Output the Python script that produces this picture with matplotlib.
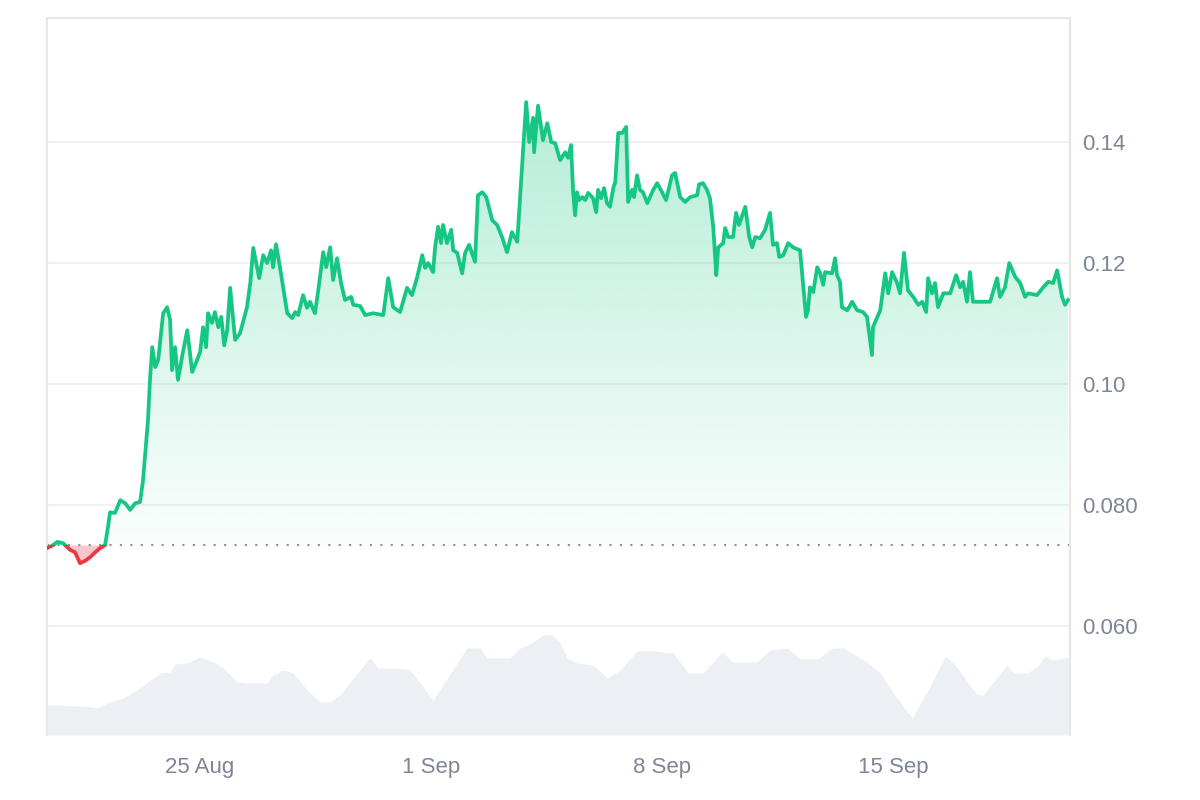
import numpy as np
import pandas as pd
import matplotlib
matplotlib.use("Agg")
import matplotlib.pyplot as plt
import matplotlib.dates as mdates
from matplotlib.patches import Rectangle
from matplotlib.colors import to_rgb

plt.rcParams['font.family'] = ['Liberation Sans', 'DejaVu Sans']

# ---------------- data ----------------
start_date = pd.Timestamp('2025-08-20')
open_price = 0.0734

price_days = [0.36, 0.52, 0.67, 0.85, 1.06, 1.21, 1.36, 1.52, 1.67, 1.82, 1.97, 2.12, 2.21, 2.27,
              2.42, 2.58, 2.73, 2.88, 3.03, 3.18, 3.27, 3.36, 3.42, 3.48, 3.55, 3.64, 3.73, 3.88,
              4.00, 4.09, 4.15, 4.24, 4.33, 4.48, 4.61, 4.76, 4.91, 5.00, 5.09, 5.18, 5.24, 5.36,
              5.45, 5.55, 5.64, 5.73, 5.82, 5.91, 6.06, 6.21, 6.42, 6.52, 6.61, 6.79, 6.91, 7.03,
              7.15, 7.21, 7.30, 7.42, 7.64, 7.79, 7.88, 7.97, 8.12, 8.24, 8.33, 8.48, 8.58, 8.73,
              8.82, 8.94, 9.03, 9.15, 9.27, 9.39, 9.58, 9.64, 9.85, 10.00, 10.24, 10.55, 10.70,
              10.85, 11.06, 11.27, 11.42, 11.58, 11.73, 11.82, 11.91, 12.06, 12.12, 12.21, 12.30,
              12.36, 12.48, 12.61, 12.67, 12.79, 12.94, 13.03, 13.15, 13.33, 13.42, 13.55, 13.67,
              13.85, 14.00, 14.15, 14.30, 14.45, 14.61, 14.70, 14.88, 14.97, 15.09, 15.12, 15.24,
              15.39, 15.52, 15.64, 15.76, 15.91, 16.06, 16.15, 16.24, 16.30,
              16.36, 16.42, 16.48, 16.58, 16.67, 16.76, 16.91, 17.00, 17.06, 17.15,
              17.24, 17.33, 17.42, 17.52, 17.58, 17.67, 17.79, 17.91, 17.97, 18.09,
              18.15, 18.24, 18.33, 18.42, 18.55, 18.73, 18.85, 19.00, 19.12, 19.30,
              19.39, 19.55, 19.70, 19.85, 20.06, 20.12, 20.24, 20.36, 20.45, 20.55,
              20.64, 20.70, 20.85, 20.91, 21.00, 21.15, 21.24, 21.33, 21.52, 21.64, 21.73,
              21.82, 21.97, 22.12, 22.27, 22.36, 22.48, 22.55, 22.67, 22.82, 22.97, 23.18, 23.27,
              23.36, 23.42, 23.48, 23.58, 23.70, 23.79, 23.88, 23.94, 24.15, 24.24, 24.30, 24.39,
              24.45, 24.61, 24.76, 24.91, 25.09, 25.21, 25.36, 25.39, 25.61, 25.76, 25.85, 25.97,
              26.12, 26.21, 26.33, 26.45, 26.61, 26.76, 26.88, 27.00, 27.06, 27.18, 27.27, 27.36,
              27.52, 27.73, 27.91, 28.03, 28.12, 28.24, 28.33, 28.42, 28.73, 28.94, 29.15, 29.24,
              29.39, 29.52, 29.70, 29.85, 30.00, 30.09, 30.36, 30.55, 30.70, 30.85, 30.97, 31.12,
              31.21, 31.30]

prices = [0.0729, 0.0733, 0.0739, 0.0737, 0.0726, 0.0722, 0.0704, 0.0708, 0.0714, 0.0722, 0.0729,
          0.0734, 0.0764, 0.0788, 0.0787, 0.0808, 0.0803, 0.0792, 0.0803, 0.0805, 0.0841, 0.0900,
          0.0940, 0.1007, 0.1061, 0.1028, 0.1040, 0.1117, 0.1127, 0.1106, 0.1023, 0.1061, 0.1007,
          0.1053, 0.1089, 0.1020, 0.1040, 0.1053, 0.1094, 0.1061, 0.1117, 0.1101, 0.1119, 0.1094,
          0.1111, 0.1064, 0.1089, 0.1159, 0.1073, 0.1084, 0.1127, 0.1167, 0.1225, 0.1175, 0.1213,
          0.1200, 0.1221, 0.1193, 0.1231, 0.1193, 0.1117, 0.1109, 0.1119, 0.1114, 0.1147, 0.1126,
          0.1136, 0.1117, 0.1155, 0.1218, 0.1193, 0.1226, 0.1172, 0.1208, 0.1167, 0.1139, 0.1144,
          0.1131, 0.1129, 0.1114, 0.1117, 0.1114, 0.1175, 0.1127, 0.1119, 0.1159, 0.1147, 0.1177,
          0.1213, 0.1192, 0.1200, 0.1185, 0.1226, 0.1260, 0.1233, 0.1263, 0.1233, 0.1255, 0.1221,
          0.1217, 0.1183, 0.1217, 0.1230, 0.1202, 0.1312, 0.1317, 0.1309, 0.1271, 0.1263, 0.1243,
          0.1218, 0.1251, 0.1235, 0.1312, 0.1466, 0.1400, 0.1440, 0.1383, 0.1460, 0.1403, 0.1431,
          0.1400, 0.1398, 0.1370, 0.1383, 0.1374, 0.1395, 0.1321,
          0.1279, 0.1317, 0.1304, 0.1309, 0.1304, 0.1316, 0.1307, 0.1284, 0.1321, 0.1307,
          0.1324, 0.1299, 0.1293, 0.1324, 0.1334, 0.1415, 0.1415, 0.1425, 0.1301, 0.1321,
          0.1309, 0.1345, 0.1321, 0.1317, 0.1299, 0.1321, 0.1332, 0.1317, 0.1304, 0.1345,
          0.1349, 0.1309, 0.1301, 0.1309, 0.1312, 0.1330, 0.1332, 0.1321, 0.1307, 0.1259,
          0.1180, 0.1226, 0.1233, 0.1258, 0.1243, 0.1243, 0.1283,
          0.1263, 0.1293, 0.1243, 0.1226, 0.1243, 0.1241, 0.1255, 0.1283, 0.1230, 0.1233, 0.1210,
          0.1213, 0.1233, 0.1226, 0.1221, 0.1167, 0.1111, 0.1122, 0.1160, 0.1152, 0.1193, 0.1183,
          0.1164, 0.1185, 0.1183, 0.1208, 0.1180, 0.1169, 0.1127, 0.1122, 0.1136, 0.1122, 0.1119,
          0.1111, 0.1048, 0.1094, 0.1122, 0.1183, 0.1150, 0.1185, 0.1167, 0.1150, 0.1217, 0.1155,
          0.1144, 0.1131, 0.1136, 0.1119, 0.1175, 0.1150, 0.1167, 0.1127, 0.1150, 0.1150, 0.1180,
          0.1160, 0.1169, 0.1136, 0.1185, 0.1136, 0.1136, 0.1136, 0.1175, 0.1144, 0.1160, 0.1200,
          0.1177, 0.1167, 0.1144, 0.1150, 0.1147, 0.1160, 0.1169, 0.1167, 0.1188, 0.1144, 0.1131,
          0.1139]

volume_days = [0.36, 0.76, 1.67, 1.88, 2.18, 2.67, 3.18, 3.58, 3.79, 4.09, 4.24, 4.61, 5.00, 5.39,
               5.67, 6.12, 6.42, 7.03, 7.21, 7.52, 7.82, 8.24, 8.64, 8.94, 9.24, 9.64, 10.15, 10.39,
               10.97, 11.36, 12.06, 13.09, 13.48, 13.70, 14.39, 14.70, 15.00, 15.39, 15.67, 15.91,
               16.12, 16.42, 16.91, 17.33, 17.73, 18.24, 18.73, 19.33, 19.79, 20.24, 20.82, 21.15,
               21.88, 22.27, 22.79, 23.18, 23.70, 24.18, 24.48, 25.21, 25.61, 26.00, 26.58, 27.06,
               27.58, 27.88, 28.55, 28.73, 29.45, 29.64, 30.06, 30.36, 30.61, 30.85, 31.36]

volumes = [3.0, 3.0, 2.8, 2.7, 3.2, 3.7, 4.7, 5.7, 6.2, 6.3, 7.1, 7.2, 7.8, 7.3, 6.8, 5.3, 5.2,
           5.2, 6.0, 6.5, 6.2, 4.5, 3.3, 3.3, 4.0, 5.7, 7.7, 6.7, 6.7, 6.5, 3.5, 8.7, 8.7, 7.7,
           7.7, 8.7, 9.1, 10.0, 10.0, 9.2, 7.7, 7.2, 7.0, 5.7, 6.5, 8.4, 8.4, 8.2, 6.2, 6.2, 8.3,
           7.3, 7.3, 8.5, 8.7, 7.6, 7.6, 8.7, 8.7, 7.3, 6.2, 4.2, 1.7, 4.5, 7.9, 7.0, 4.0, 4.0,
           7.0, 6.2, 6.2, 6.8, 7.9, 7.5, 7.8]

ytick_values = [0.06, 0.08, 0.10, 0.12, 0.14]
ytick_labels = ['0.060', '0.080', '0.10', '0.12', '0.14']

# keep series aligned
n_pts = min(len(price_days), len(prices))
price_days = price_days[:n_pts]
prices = prices[:n_pts]
n_vol = min(len(volume_days), len(volumes))
volume_days = volume_days[:n_vol]
volumes = volumes[:n_vol]

# ---------------- style ----------------
GREEN = '#16c784'
RED = '#ea3943'
TEXT = '#7d8596'
GRID = '#efefef'
FRAME = '#e6e6e6'
VOL = '#eceff3'

t_price = start_date + pd.to_timedelta(price_days, unit='D')
t_vol = start_date + pd.to_timedelta(volume_days, unit='D')
p = np.array(prices)

x_start = start_date + pd.Timedelta(days=0.36)
x_end = start_date + pd.Timedelta(days=31.36)
y_lo, y_hi = 0.0420, 0.1605

fig = plt.figure(figsize=(12, 8), dpi=100)
ax = fig.add_axes([47 / 1200, 65 / 800, 1023 / 1200, 717 / 800])
axv = ax.twinx()
ax.set_zorder(axv.get_zorder() + 1)
ax.patch.set_visible(False)

# volume
axv.fill_between(t_vol, volumes, 0, color=VOL, lw=0)
axv.set_ylim(0, 71.7)
axv.set_yticks([])
for s in axv.spines.values():
    s.set_visible(False)

# gradient fill above open price
x0n = mdates.date2num(x_start)
x1n = mdates.date2num(x_end)
upper = np.maximum(p, open_price)
poly = ax.fill_between(t_price, upper, open_price, color='none', lw=0)
n = 256
frac = np.linspace(0, 1, n).reshape(-1, 1)
rgba = np.zeros((n, 1, 4))
rgba[..., :3] = to_rgb(GREEN)
rgba[..., 3] = 0.02 + 0.30 * frac[:, 0:1]
im = ax.imshow(rgba, origin='lower', aspect='auto',
               extent=[x0n, x1n, open_price, max(prices)], zorder=1)
im.set_clip_path(poly.get_paths()[0], transform=ax.transData)

# red fill below open price
lower = np.minimum(p, open_price)
ax.fill_between(t_price, lower, open_price, color=RED, alpha=0.28, lw=0, zorder=1)

# baseline
ax.axhline(open_price, color='#8a8f99', lw=1.5, ls=(0, (1, 4)), zorder=2)

# lines
lg, = ax.plot(t_price, p, color=GREEN, lw=2.7, solid_joinstyle='round', zorder=3)
lg.set_clip_path(Rectangle((x0n, open_price), x1n - x0n, 1.0, transform=ax.transData))
lr, = ax.plot(t_price, p, color=RED, lw=2.7, solid_joinstyle='round', zorder=3)
lr.set_clip_path(Rectangle((x0n, open_price - 1.0), x1n - x0n, 1.0, transform=ax.transData))

ax.set_xlim(x_start, x_end)
ax.set_ylim(y_lo, y_hi)
axv.set_xlim(x_start, x_end)

ax.set_yticks(ytick_values)
ax.set_yticklabels(ytick_labels)
ax.yaxis.tick_right()
ax.grid(axis='y', color=GRID, lw=1.2, zorder=0)
ax.set_axisbelow(True)

ax.xaxis.set_major_locator(mdates.DayLocator(bymonthday=[1, 8, 15, 25]))
ax.xaxis.set_major_formatter(mdates.DateFormatter('%-d %b'))

ax.tick_params(axis='y', length=0, pad=8.5, labelsize=16, labelcolor=TEXT)
ax.tick_params(axis='x', length=0, pad=16, labelsize=16, labelcolor=TEXT)

for side in ['top', 'left', 'right']:
    ax.spines[side].set_color(FRAME)
    ax.spines[side].set_linewidth(1.5)
ax.spines['bottom'].set_visible(False)

fig.savefig('out.png', dpi=100, facecolor='white')
